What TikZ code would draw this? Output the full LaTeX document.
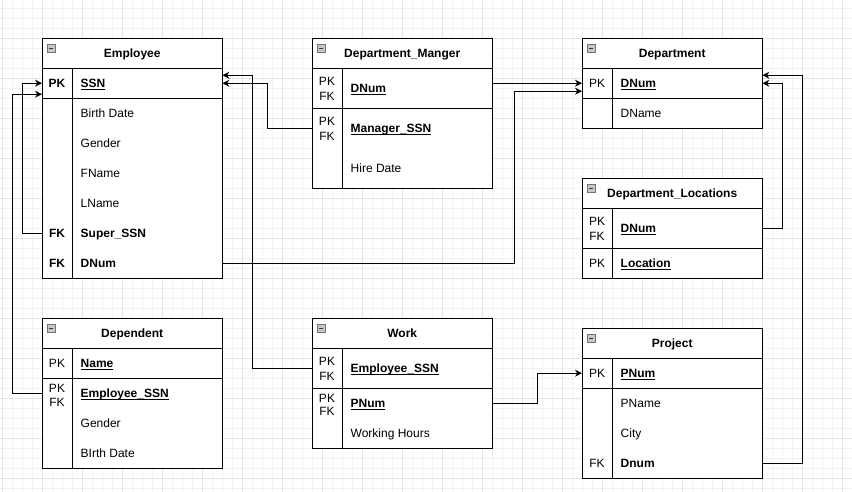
\documentclass[tikz,border=0pt]{standalone}
\usepackage{fontspec}
\setmainfont{Liberation Sans}
\usetikzlibrary{arrows.meta}
\newcommand\fs{\fontsize{12pt}{15pt}\selectfont}
\newcommand\ulx[1]{\setbox0\hbox{#1}\rlap{\rule[-2.2pt]{\wd0}{0.9pt}}\box0}
\tikzset{
 gridminor/.style={draw=black!5, line width=0.7pt},
 gridmajor/.style={draw=black!11, line width=0.7pt},
 tbl/.style={draw=black, line width=1pt, fill=white, inner sep=0pt, minimum width=180pt, anchor=north west},
 hdr/.style={inner sep=0pt, minimum width=180pt, minimum height=30pt, anchor=north west, text height=8.6pt, text depth=0pt, font=\fs\bfseries},
 rowbox/.style={inner sep=0pt, minimum width=180pt, anchor=north west},
 att/.style={inner sep=0pt, text height=8.6pt, text depth=0pt, anchor=west, font=\fs},
 keyl/.style={inner sep=0pt, text height=8.6pt, text depth=0pt, anchor=center, font=\fs},
 sep/.style={line width=1pt},
 conn/.style={line width=1pt, -{Stealth[length=7pt,width=7pt]}},
 icon/.style={draw=black!55, fill=black!22, line width=0.6pt},
}
% name, x, ytop, height, key, attribute
\newcommand\arow[6]{%
 \node[rowbox, minimum height=#4pt] (#1) at (#2,#3) {};
 \node[keyl] (#1-k) at ([xshift=15pt]#1.west) {#5};
 \node[att] (#1-a) at ([xshift=38.5pt]#1.west) {#6};
}
% two-line key: name, x, y of PK, y of FK
\newcommand\tkey[4]{%
 \node[keyl] (#1-pk) at (#2+15,#3) {PK};
 \node[keyl] (#1-fk) at (#2+15,#4) {FK};
}
% table frame: name, x, y, height, title
\newcommand\tframe[5]{%
 \node[tbl, minimum height=#4pt] (#1) at (#2,#3) {};
 \node[hdr] (#1-h) at (#2,#3) {#5};
 \draw[sep] (#1-h.south west) -- (#1-h.south east);
 \draw[sep] ([xshift=30pt]#1-h.south west) -- ([xshift=30pt]#1.south west);
 \draw[icon] (#2+5,#3+6) rectangle (#2+13,#3+14);
 \draw[line width=0.8pt, black!80] (#2+7,#3+10) -- (#2+11,#3+10);
}
\begin{document}
\begin{tikzpicture}[x=1pt,y=-1pt]
\useasboundingbox (0,0) rectangle (852,492);
\fill[white] (0,0) rectangle (852,492);
% grid
\foreach \x in {2,12,...,852} \draw[gridminor] (\x,0) -- (\x,492);
\foreach \y in {8,18,...,492} \draw[gridminor] (0,\y) -- (852,\y);
\foreach \x in {2,42,...,852} \draw[gridmajor] (\x,0) -- (\x,492);
\foreach \y in {38,78,...,492} \draw[gridmajor] (0,\y) -- (852,\y);

% Employee
\tframe{emp}{42}{38}{240}{Employee}
\arow{emp-ssn}{42}{68}{30}{\textbf{PK}}{\textbf{\ulx{SSN}}}
\arow{emp-bd}{42}{98}{30}{}{Birth Date}
\arow{emp-gen}{42}{128}{30}{}{Gender}
\arow{emp-fn}{42}{158}{30}{}{FName}
\arow{emp-ln}{42}{188}{30}{}{LName}
\arow{emp-super}{42}{218}{30}{\textbf{FK}}{\textbf{Super\_SSN}}
\arow{emp-dnum}{42}{248}{30}{\textbf{FK}}{\textbf{DNum}}
\draw[sep] (emp-ssn.south west) -- (emp-ssn.south east);

% Department_Manger
\tframe{dm}{312}{38}{150}{Department\_Manger}
\arow{dm-dnum}{312}{68}{40}{}{\textbf{\ulx{DNum}}}
\tkey{dm-dnum}{312}{81}{96}
\arow{dm-mssn}{312}{108}{40}{}{\textbf{\ulx{Manager\_SSN}}}
\tkey{dm-mssn}{312}{121}{136}
\arow{dm-hd}{312}{148}{40}{}{Hire Date}
\draw[sep] (dm-dnum.south west) -- (dm-dnum.south east);
\draw[sep] (dm-mssn.south west) -- (dm-mssn.south west);

% Department
\tframe{dept}{582}{38}{90}{Department}
\arow{dept-dnum}{582}{68}{30}{PK}{\textbf{\ulx{DNum}}}
\arow{dept-dn}{582}{98}{30}{}{DName}
\draw[sep] (dept-dnum.south west) -- (dept-dnum.south east);

% Department_Locations
\tframe{dl}{582}{178}{100}{Department\_Locations}
\arow{dl-dnum}{582}{208}{40}{}{\textbf{\ulx{DNum}}}
\tkey{dl-dnum}{582}{221}{236}
\arow{dl-loc}{582}{248}{30}{PK}{\textbf{\ulx{Location}}}
\draw[sep] (dl-dnum.south west) -- (dl-dnum.south east);

% Dependent
\tframe{dep}{42}{318}{150}{Dependent}
\arow{dep-name}{42}{348}{30}{PK}{\textbf{\ulx{Name}}}
\arow{dep-essn}{42}{378}{30}{}{\textbf{\ulx{Employee\_SSN}}}
\tkey{dep-essn}{42}{388}{402}
\arow{dep-gen}{42}{408}{30}{}{Gender}
\arow{dep-bd}{42}{438}{30}{}{BIrth Date}
\draw[sep] (dep-name.south west) -- (dep-name.south east);

% Work
\tframe{wk}{312}{318}{130}{Work}
\arow{wk-essn}{312}{348}{40}{}{\textbf{\ulx{Employee\_SSN}}}
\tkey{wk-essn}{312}{361}{376}
\arow{wk-pnum}{312}{388}{30}{}{\textbf{\ulx{PNum}}}
\tkey{wk-pnum}{312}{398}{411}
\arow{wk-wh}{312}{418}{30}{}{Working Hours}
\draw[sep] (wk-essn.south west) -- (wk-essn.south east);

% Project
\tframe{prj}{582}{328}{150}{Project}
\arow{prj-pnum}{582}{358}{30}{PK}{\textbf{\ulx{PNum}}}
\arow{prj-pn}{582}{388}{30}{}{PName}
\arow{prj-city}{582}{418}{30}{}{City}
\arow{prj-dnum}{582}{448}{30}{FK}{\textbf{Dnum}}
\draw[sep] (prj-pnum.south west) -- (prj-pnum.south east);

% connectors
\draw[conn] (emp-super.west) -- ++(-20,0) |- (emp-ssn.west);
\draw[conn] (dep-essn.west) -- ++(-30,0) |- ([yshift=-11pt]emp-ssn.west);
\draw[conn] (dm-mssn.west) -- ++(-45,0) |- (emp-ssn.east);
\draw[conn] (wk-essn.west) -- ++(-60,0) |- ([yshift=8pt]emp-ssn.east);
\draw[conn] (emp-dnum.east) -- ++(292,0) |- ([yshift=-8pt]dept-dnum.west);
\draw[conn] ([yshift=5pt]dm-dnum.east) -- (dept-dnum.west);
\draw[conn] (dl-dnum.east) -- ++(20,0) |- (dept-dnum.east);
\draw[conn] (prj-dnum.east) -- ++(40,0) |- ([yshift=8pt]dept-dnum.east);
\draw[conn] (wk-pnum.east) -- ++(45,0) |- (prj-pnum.west);
\end{tikzpicture}
\end{document}
